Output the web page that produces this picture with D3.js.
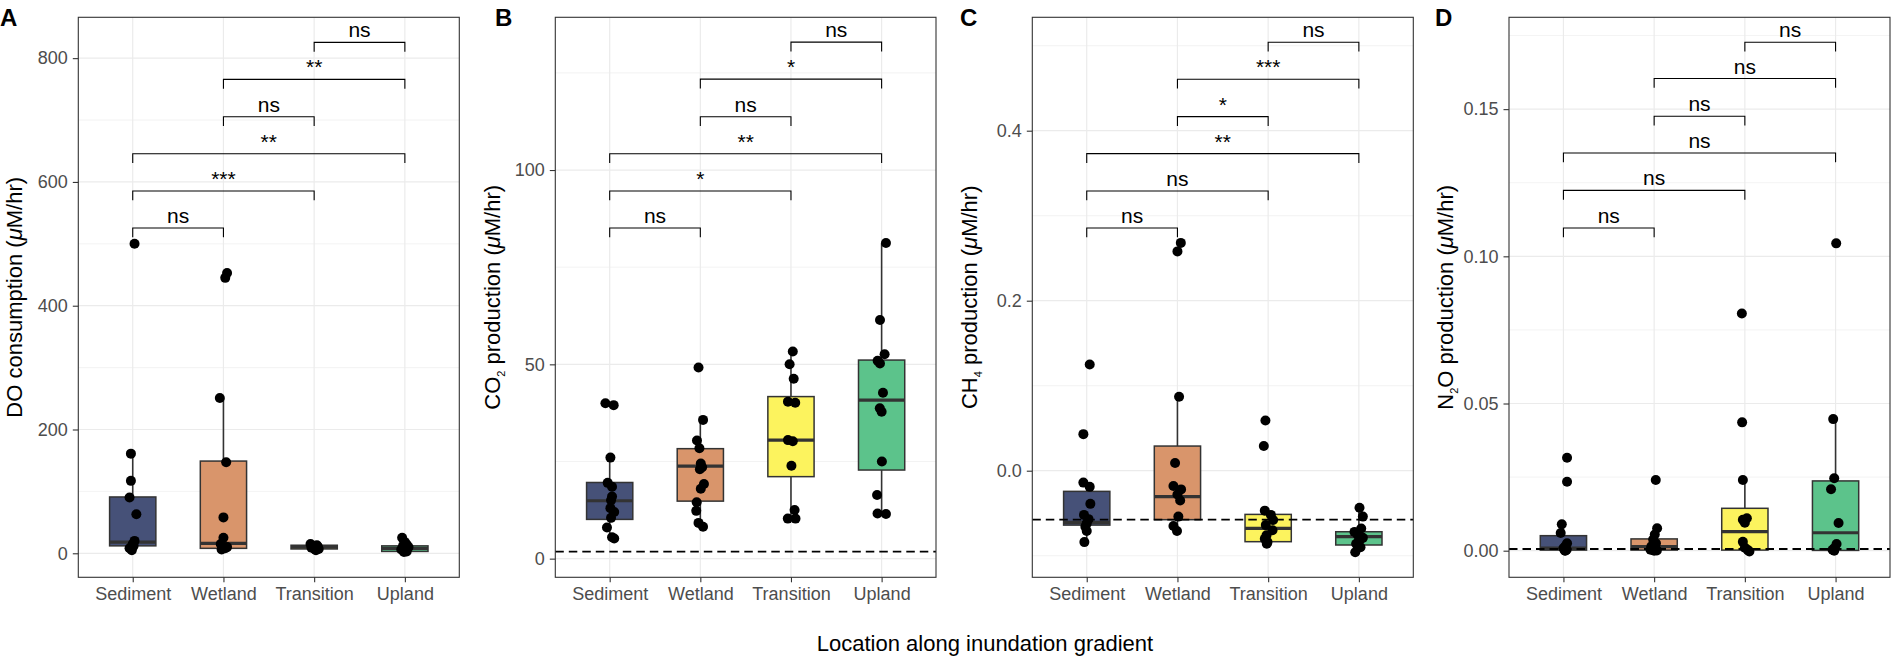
<!DOCTYPE html>
<html>
<head>
<meta charset="utf-8">
<script src="https://cdn.jsdelivr.net/npm/d3@7"></script>
<style>
  html, body { margin: 0; padding: 0; background: #ffffff; }
  svg { display: block; font-family: "Liberation Sans", Arial, Helvetica, sans-serif; }
</style>
</head>
<body>
<svg id="chart" width="1896" height="661"></svg>
<script>
// ---------------- DATA ----------------
const categories = ["Sediment", "Wetland", "Transition", "Upland"];
const boxFill = ["#465178", "#d9956b", "#fcf35e", "#5cc38b"];
const pairs = [[0, 1], [0, 2], [0, 3], [1, 2], [1, 3], [2, 3]];

// Panel A: DO consumption
const doPoints = [
  [500, 161, 117, 90, 63, 20, 15, 12, 8, 5],
  [453, 445, 251, 147, 58, 25, 15, 10, 8, 6],
  [15, 13, 12, 11, 10, 9, 8, 7, 6, 5],
  [25, 18, 14, 12, 10, 8, 6, 5, 3, 2]
];
const doJitter = [
  [0.02, -0.02, -0.02, -0.035, 0.04, 0.02, 0.0, 0.01, -0.035, -0.01],
  [0.04, 0.02, -0.04, 0.03, 0.0, 0.0, -0.03, 0.04, 0.02, -0.02],
  [-0.04, 0.03, -0.02, 0.04, 0.0, -0.03, 0.02, 0.05, 0.01, 0.02],
  [-0.03, 0.0, 0.02, -0.02, 0.04, 0.03, -0.04, 0.01, 0.02, -0.01]
];
// [lower whisker, q1, median, q3, upper whisker]
const doBox = [
  [5, 12, 18, 91, 161],
  [6, 8, 16, 149, 251],
  [5, 7, 10, 13, 15],
  [2, 3, 8, 12, 25]
];
const doTicks = [0, 200, 400, 600, 800];
const doMinor = [100, 300, 500, 700];
const doDomain = [-38.8, 866];
const doBrackets = [525.5, 585.3, 645.6, 705.3, 765.7, 825.5];
const doLabels = ["ns", "***", "**", "ns", "**", "ns"];

// Panel B: CO2 production
const co2Points = [
  [40, 39.5, 26, 19.5, 18.5, 16, 15, 13, 12, 10.5, 8, 5.5, 5.2],
  [49.2, 35.7, 30.4, 28.4, 24.5, 23.5, 23, 19.2, 18, 14.5, 12.3, 9.2, 8.2],
  [53.3, 50, 46.3, 40.4, 40.1, 30.5, 30.2, 23.9, 12.5, 10.3, 10.3],
  [81.2, 61.4, 52.6, 50.9, 50.2, 42.7, 38.7, 37.8, 25, 16.4, 11.6, 11.5]
];
const co2Jitter = [
  [-0.047, 0.044, 0.008, -0.022, 0.026, 0.026, 0.015, 0.008, 0.05, 0.015, -0.03, 0.026, 0.05],
  [-0.02, 0.03, -0.037, -0.01, 0.005, 0.02, -0.005, 0.04, 0.005, -0.04, -0.045, -0.02, 0.03],
  [0.02, -0.015, 0.03, -0.033, 0.047, -0.033, 0.02, 0.005, 0.04, -0.035, 0.05],
  [0.048, -0.018, 0.033, -0.044, -0.018, 0.015, -0.02, 0.0, 0.003, -0.05, -0.045, 0.048]
];
const co2Box = [
  [5.4, 10.1, 14.9, 19.6, 25.9],
  [8.2, 14.8, 23.8, 28.3, 35.7],
  [10.3, 21.1, 30.5, 41.7, 53.3],
  [11.5, 22.8, 40.8, 51.1, 81.2]
];
const co2Ticks = [0, 50, 100];
const co2Minor = [25, 75, 125];
const co2Domain = [-4.8, 139.3];
const co2Brackets = [85.1, 94.6, 104.2, 113.7, 123.4, 132.9];
const co2Labels = ["ns", "*", "**", "ns", "*", "ns"];
const co2Ref = 1.8;

// Panel C: CH4 production
const ch4Points = [
  [0.125, 0.043, -0.014, -0.019, -0.039, -0.052, -0.057, -0.062, -0.066, -0.071, -0.084],
  [0.268, 0.258, 0.087, 0.009, -0.018, -0.022, -0.028, -0.035, -0.054, -0.065, -0.071],
  [0.059, 0.029, -0.047, -0.052, -0.058, -0.064, -0.07, -0.076, -0.08, -0.084, -0.086],
  [-0.0435, -0.054, -0.068, -0.072, -0.076, -0.079, -0.082, -0.086, -0.09, -0.096]
];
const ch4Jitter = [
  [0.033, -0.037, -0.037, 0.033, 0.04, -0.03, 0.02, 0.0, -0.015, 0.0, -0.026],
  [0.037, 0.0, 0.018, -0.026, -0.044, 0.04, 0.0, 0.03, 0.01, -0.044, -0.005],
  [-0.03, -0.048, -0.037, 0.03, 0.055, -0.026, 0.048, -0.018, -0.037, -0.007, -0.015],
  [0.007, 0.044, 0.026, -0.048, -0.011, 0.044, 0.007, -0.03, 0.018, -0.04]
];
const ch4Box = [
  [-0.084, -0.064, -0.0607, -0.0243, -0.014],
  [-0.071, -0.0576, -0.0306, 0.029, 0.087],
  [-0.086, -0.0835, -0.0678, -0.0514, -0.047],
  [-0.0957, -0.0874, -0.0776, -0.0718, -0.0435]
];
const ch4Ticks = [0.0, 0.2, 0.4];
const ch4Minor = [-0.1, 0.1, 0.3, 0.5];
const ch4Domain = [-0.1254, 0.5334];
const ch4Brackets = [0.2855, 0.329, 0.373, 0.4165, 0.4605, 0.504];
const ch4Labels = ["ns", "ns", "**", "*", "***", "ns"];
const ch4Ref = -0.0576;

// Panel D: N2O production
const n2oPoints = [
  [0.0316, 0.0234, 0.009, 0.006, 0.0025, 0.0015, 0.0008, 0.0003, 0.0001, 0],
  [0.024, 0.0076, 0.0055, 0.0038, 0.0025, 0.0015, 0.0008, 0.0003, 0.0001, 0],
  [0.0806, 0.0436, 0.024, 0.011, 0.0105, 0.0095, 0.003, 0.001, 0.0002, -0.0003],
  [0.1044, 0.0447, 0.0246, 0.0209, 0.0094, 0.0023, 0.0008, 0.0003, 0]
];
const n2oJitter = [
  [0.04, 0.04, -0.018, -0.03, 0.04, 0.02, 0.0, 0.035, 0.015, 0.02],
  [0.018, 0.033, 0.007, -0.011, 0.02, -0.03, 0.01, -0.04, 0.03, 0.0],
  [-0.033, -0.03, -0.022, 0.022, -0.022, 0.0, -0.022, 0.0, 0.033, 0.05],
  [0.007, -0.026, -0.015, -0.05, 0.033, 0.011, -0.015, -0.033, -0.015]
];
const n2oBox = [
  [0, 0.0002, 0.0009, 0.0051, 0.009],
  [0, 0.0002, 0.0014, 0.004, 0.0076],
  [-0.0003, 0.0002, 0.0065, 0.0144, 0.024],
  [0, 0.0001, 0.0061, 0.0237, 0.0447]
];
const n2oTicks = [0.00, 0.05, 0.10, 0.15];
const n2oMinor = [0.025, 0.075, 0.125, 0.175];
const n2oDomain = [-0.00904, 0.1812];
const n2oBrackets = [0.1096, 0.1224, 0.1351, 0.1476, 0.1604, 0.1727];
const n2oLabels = ["ns", "ns", "ns", "ns", "ns", "ns"];
const n2oRef = 0.00058;

const panelLetters = ["A", "B", "C", "D"];
const xTitle = "Location along inundation gradient";

// ---------------- LAYOUT ----------------
const svg = d3.select("#chart");
const TOP = 17.3, BOTTOM = 577.3;
const panels = [
  { left: 78.3, right: 459.3, letterX: 0, titleX: 22, fmt: d3.format("d"),
    points: doPoints, jitter: doJitter, box: doBox, ticks: doTicks, minor: doMinor, domain: doDomain,
    brackets: doBrackets, labels: doLabels, ref: null,
    title: [{t: "DO consumption ("}, {t: "\u03bc", it: true}, {t: "M/hr)"}] },
  { left: 555.3, right: 936, letterX: 495, titleX: 500, fmt: d3.format("d"),
    points: co2Points, jitter: co2Jitter, box: co2Box, ticks: co2Ticks, minor: co2Minor, domain: co2Domain,
    brackets: co2Brackets, labels: co2Labels, ref: co2Ref,
    title: [{t: "CO"}, {t: "2", sub: true}, {t: " production ("}, {t: "\u03bc", it: true}, {t: "M/hr)"}] },
  { left: 1032.3, right: 1413.3, letterX: 960, titleX: 977, fmt: d3.format(".1f"),
    points: ch4Points, jitter: ch4Jitter, box: ch4Box, ticks: ch4Ticks, minor: ch4Minor, domain: ch4Domain,
    brackets: ch4Brackets, labels: ch4Labels, ref: ch4Ref,
    title: [{t: "CH"}, {t: "4", sub: true}, {t: " production ("}, {t: "\u03bc", it: true}, {t: "M/hr)"}] },
  { left: 1509, right: 1890, letterX: 1435, titleX: 1453, fmt: d3.format(".2f"),
    points: n2oPoints, jitter: n2oJitter, box: n2oBox, ticks: n2oTicks, minor: n2oMinor, domain: n2oDomain,
    brackets: n2oBrackets, labels: n2oLabels, ref: n2oRef,
    title: [{t: "N"}, {t: "2", sub: true}, {t: "O production ("}, {t: "\u03bc", it: true}, {t: "M/hr)"}] }
];

const GRID = "#ebebeb", DARK = "#333333", TICKTXT = "#4d4d4d";
const BOXW = 0.51;

panels.forEach((p, pi) => {
  const x = d3.scalePoint().domain(categories).range([p.left, p.right]).padding(0.6);
  const step = x.step();
  const y = d3.scaleLinear().domain(p.domain).range([BOTTOM, TOP]);
  const g = svg.append("g");

  // background grid
  g.selectAll(".minor").data(p.minor).join("line")
    .attr("x1", p.left).attr("x2", p.right)
    .attr("y1", d => y(d)).attr("y2", d => y(d))
    .attr("stroke", GRID).attr("stroke-width", 0.6);
  g.selectAll(".major").data(p.ticks).join("line")
    .attr("x1", p.left).attr("x2", p.right)
    .attr("y1", d => y(d)).attr("y2", d => y(d))
    .attr("stroke", GRID).attr("stroke-width", 1.2);
  g.selectAll(".vgrid").data(categories).join("line")
    .attr("x1", d => x(d)).attr("x2", d => x(d))
    .attr("y1", TOP).attr("y2", BOTTOM)
    .attr("stroke", GRID).attr("stroke-width", 1.2);

  // boxplots
  categories.forEach((c, ci) => {
    const [lo, q1, med, q3, hi] = p.box[ci];
    const cx = x(c), hw = BOXW * step / 2;
    g.append("line").attr("x1", cx).attr("x2", cx).attr("y1", y(q3)).attr("y2", y(hi))
      .attr("stroke", DARK).attr("stroke-width", 1.6);
    g.append("line").attr("x1", cx).attr("x2", cx).attr("y1", y(q1)).attr("y2", y(lo))
      .attr("stroke", DARK).attr("stroke-width", 1.6);
    g.append("rect").attr("x", cx - hw).attr("width", 2 * hw)
      .attr("y", y(q3)).attr("height", Math.max(0.5, y(q1) - y(q3)))
      .attr("fill", boxFill[ci]).attr("stroke", DARK).attr("stroke-width", 1.5);
    g.append("line").attr("x1", cx - hw).attr("x2", cx + hw).attr("y1", y(med)).attr("y2", y(med))
      .attr("stroke", DARK).attr("stroke-width", 3.2);
  });

  // reference dashed line
  if (p.ref !== null) {
    g.append("line").attr("x1", p.left).attr("x2", p.right)
      .attr("y1", y(p.ref)).attr("y2", y(p.ref))
      .attr("stroke", "#000").attr("stroke-width", 1.9).attr("stroke-dasharray", "8.5,5");
  }

  // points
  categories.forEach((c, ci) => {
    g.selectAll(null).data(p.points[ci]).join("circle")
      .attr("cx", (d, i) => x(c) + p.jitter[ci][i] * step)
      .attr("cy", d => y(d))
      .attr("r", 5).attr("fill", "#000");
  });

  // significance brackets
  pairs.forEach((pr, bi) => {
    const x1 = x(categories[pr[0]]), x2 = x(categories[pr[1]]);
    const yy = y(p.brackets[bi]);
    g.append("path")
      .attr("d", `M${x1},${yy + 9.3}V${yy}H${x2}V${yy + 9.3}`)
      .attr("fill", "none").attr("stroke", "#000").attr("stroke-width", 1.1);
    g.append("text").attr("x", (x1 + x2) / 2).attr("y", yy - 5)
      .attr("text-anchor", "middle").attr("font-size", 21).attr("fill", "#000")
      .text(p.labels[bi]);
  });

  // panel border
  g.append("rect").attr("x", p.left).attr("y", TOP)
    .attr("width", p.right - p.left).attr("height", BOTTOM - TOP)
    .attr("fill", "none").attr("stroke", DARK).attr("stroke-width", 1.1);

  // axes
  const ya = g.append("g").attr("transform", `translate(${p.left},0)`)
    .call(d3.axisLeft(y).tickValues(p.ticks).tickFormat(p.fmt).tickSize(5.5).tickPadding(5));
  const xa = g.append("g").attr("transform", `translate(0,${BOTTOM})`)
    .call(d3.axisBottom(x).tickSize(5).tickPadding(5));
  [ya, xa].forEach(a => {
    a.select(".domain").remove();
    a.selectAll(".tick line").attr("stroke", DARK).attr("stroke-width", 1.1);
    a.selectAll(".tick text").attr("fill", TICKTXT).attr("font-size", 18)
      .attr("font-family", "Liberation Sans, Arial, sans-serif");
  });

  // panel letter
  svg.append("text").attr("x", p.letterX).attr("y", 25.5)
    .attr("font-size", 24).attr("font-weight", "bold").attr("fill", "#000")
    .text(panelLetters[pi]);

  // y title
  const yc = (TOP + BOTTOM) / 2;
  const tt = svg.append("text")
    .attr("transform", `translate(${p.titleX},${yc}) rotate(-90)`)
    .attr("text-anchor", "middle").attr("font-size", 22).attr("fill", "#000");
  p.title.forEach(part => {
    const ts = tt.append("tspan").text(part.t);
    if (part.it) ts.attr("font-style", "italic");
    if (part.sub) ts.attr("font-size", 11).attr("dy", 5);
    else if (ts.node().previousSibling && ts.node().previousSibling.getAttribute("dy") === "5") ts.attr("dy", -5);
  });
});

// x title
svg.append("text").attr("x", 985).attr("y", 651)
  .attr("text-anchor", "middle").attr("font-size", 22).attr("fill", "#000")
  .text(xTitle);
</script>
</body>
</html>
